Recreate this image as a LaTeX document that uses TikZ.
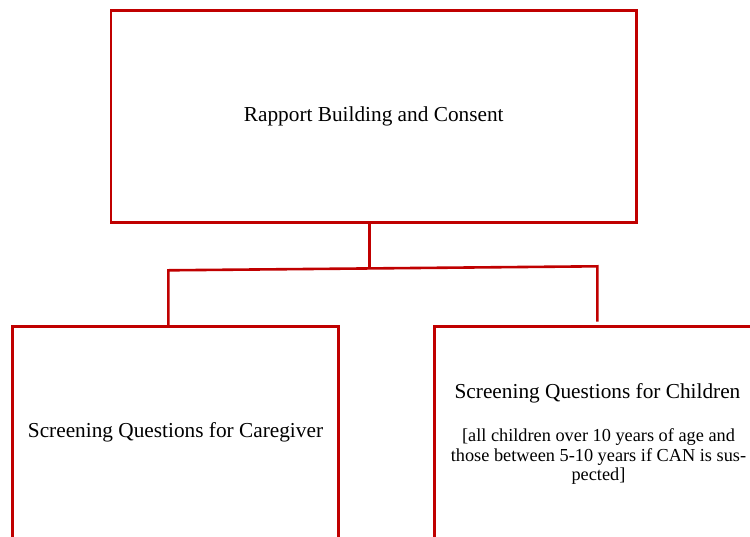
\documentclass[tikz,border=0pt]{standalone}
\usepackage{fontspec}
\setmainfont{Liberation Serif}
\definecolor{boxred}{RGB}{192,0,0}
\begin{document}
\begin{tikzpicture}[x=1pt,y=-1pt,
  box/.style={draw=boxred,line width=2.6pt,rectangle,inner sep=0pt,
    minimum width=325.5pt,minimum height=212pt,
    font=\fontsize{21.3}{24}\selectfont,align=center},
  conn/.style={draw=boxred,line width=2.6pt,line join=miter},
  big/.style={inner sep=0pt,anchor=base,font=\fontsize{21.3}{24}\selectfont},
  small/.style={inner sep=0pt,anchor=base,font=\fontsize{18.3}{20}\selectfont}]
\clip (0,0) rectangle (750,536);
\fill[white] (0,0) rectangle (750,536);
% boxes
\node[box,minimum width=525.5pt] (top) at (373.75,116.2) {Rapport Building and Consent};
\node[box] (left) at (175.5,432.3) {Screening Questions for Caregiver};
\node[box] (right) at (597.5,432.3) {};
% text of right box
\node[big] (ctitle) at (597.5,398.3) {Screening Questions for Children};
\node[small] (cl1) at (598.5,441) {[all children over 10 years of age and};
\node[small] (cl2) at (598.5,461) {those between 5-10 years if CAN is sus-};
\node[small] (cl3) at (598.5,480.5) {pected]};
% connectors
\coordinate (j) at (369.5,268.3);
\coordinate (hl) at (168.3,270.3);
\coordinate (hr) at (597.3,266.3);
\coordinate (rend) at (597.3,321.7);
\draw[conn] (top.south -| j) -- (j);
\draw[conn] (hl |- left.north) -- (hl) -- (hr) -- (rend);
\end{tikzpicture}
\end{document}
